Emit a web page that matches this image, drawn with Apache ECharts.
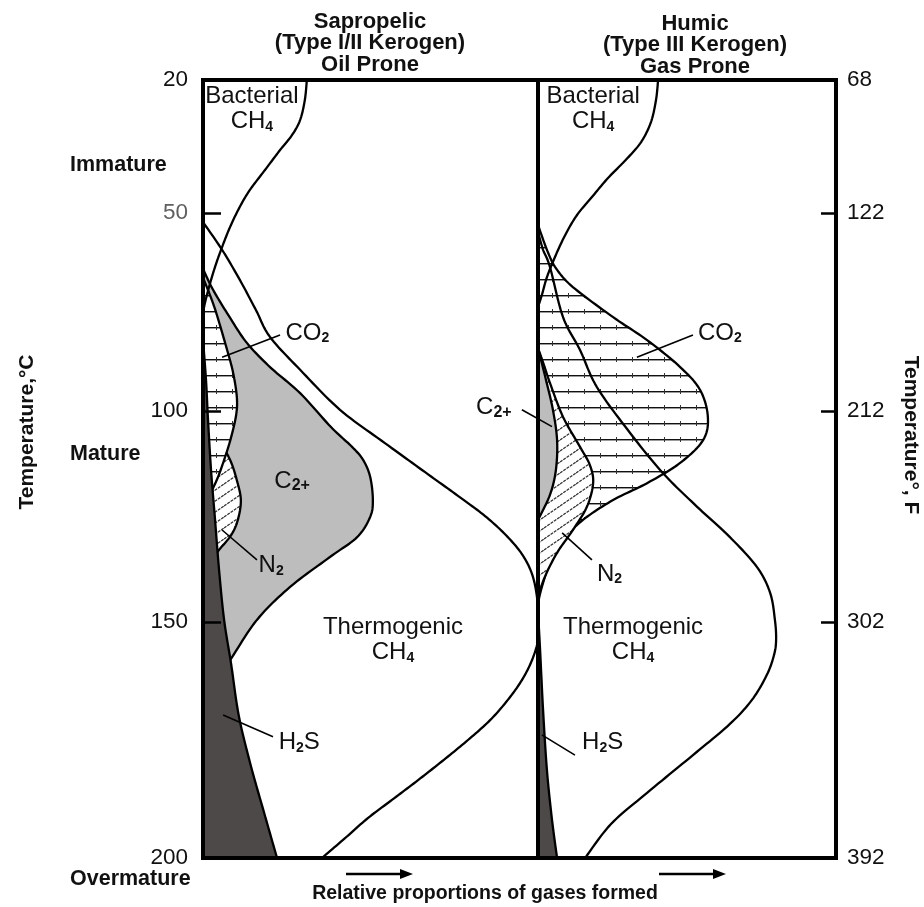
<!DOCTYPE html>
<html>
<head>
<meta charset="utf-8">
<script src="https://cdn.jsdelivr.net/npm/echarts@6/dist/echarts.min.js"></script>
<style>html,body{margin:0;padding:0;background:#fff}#chart{width:924px;height:907px}</style>
</head>
<body>
<div id="chart"></div>
<script>
// ---------------- data ----------------
// temperature ticks (°C) and their °F equivalents
const TEMP_C = [20, 50, 100, 150, 200];
const TEMP_F = [68, 122, 212, 302, 392];
// the drawn temperature scale is not linear: axis units at each °C tick
const SCALE_STOPS = [0, 133, 331, 542, 778];

// Sapropelic panel: [relative proportion (% of panel width), temperature °C]
const SAP_BACTERIAL = [[31.0,20],[30.4,24.5],[29.0,29.0],[26.6,32.4],[23.0,35.8],[18.5,40.3],[14.0,44.8],[11.0,48.6],[8.1,53.5],[5.7,58.6],[3.6,63.6],[1.8,68.7],[0.5,73],[0,75.5]];
const SAP_THERMO = [[0,52.3],[5.7,59.3],[11.0,66.9],[15.8,74.5],[20.0,81.3],[29.0,89.6],[40.9,99.7],[54.3,107.6],[66.3,114.5],[76.1,120.1],[84.2,124.9],[90.4,129.4],[95.2,133.9],[98.2,138.6],[99.7,144.1],[100,149.5],[100,153.8],[98.2,158.1],[95.2,162.3],[91.0,166.5],[85.7,170.8],[79.1,175.0],[71.9,179.2],[64.2,183.5],[56.4,187.7],[49.3,191.5],[42.4,195.8],[35.5,200]];
const SAP_C2 = [[0,64.1],[3.0,69.4],[8.1,76.5],[13.1,82.8],[20.0,88.9],[29.0,95.5],[38.2,103.8],[44.5,108.5],[47.8,111.6],[49.9,115.6],[50.7,121.1],[49.9,125.1],[46.0,129.9],[37.9,134.6],[26.0,141.7],[16.1,149.5],[8.1,158.1],[3.6,162.9],[0,166.5]];
const SAP_CO2 = [[0,66.4],[0.9,68.2],[3.6,74.3],[7.2,84.6],[9.0,90.4],[10.1,96.5],[9.9,100.9],[8.4,106.2],[6.6,110.9],[4.5,115.6],[2.4,119.4],[0.6,123.5],[0,124.9]];
const SAP_N2 = [[0,92.2],[1.5,98.0],[4.5,106.2],[8.1,111.6],[10.1,116.4],[11.3,121.1],[10.4,125.8],[8.4,129.4],[4.8,132.9],[2.1,135.8],[0.6,138.4],[0,139.6]];
const SAP_H2S = [[0,82.1],[0.9,92.2],[1.5,102.1],[2.4,114.0],[3.6,125.8],[4.8,137.7],[6.3,149.5],[8.4,158.9],[10.7,169.9],[14.3,180.5],[18.2,190.3],[22.1,200]];

// Humic panel
const HUM_BACTERIAL = [[40.3,20],[39.6,24.5],[37.9,29.5],[34.6,34.0],[29.5,38.0],[23.5,42.1],[18.1,46.4],[13.1,50.5],[9.1,55.6],[5.7,61.1],[3.0,66.2],[1.3,70.7],[0,73.7]];
const HUM_THERMO = [[0,54.8],[1.7,59.3],[4.0,63.6],[8.4,76.3],[14.1,84.6],[19.8,94.0],[30.9,105.2],[41.9,114.7],[53.4,122.7],[64.4,129.9],[73.5,137.0],[77.9,143.1],[79.5,149.5],[79.9,153.8],[79.2,157.0],[76.8,161.2],[71.8,166.5],[64.4,171.6],[52.0,178.2],[36.6,186.2],[24.5,192.8],[15.8,200]];
const HUM_CO2 = [[0,53.0],[3.0,59.3],[6.0,63.9],[11.7,68.7],[25.2,76.3],[36.6,82.1],[47.7,88.9],[54.4,94.7],[57.0,101.4],[55.4,106.9],[47.7,112.3],[36.6,117.1],[25.2,121.1],[15.1,125.8],[8.4,130.6],[4.0,136.0],[1.3,141.7],[0,145.5]];
const HUM_N2 = [[0,84.1],[2.0,88.4],[4.0,92.9],[8.4,101.4],[14.1,108.5],[17.4,112.8],[18.5,117.1],[16.4,122.7],[11.7,128.2],[6.4,133.6],[2.3,139.3],[0,144.1]];
const HUM_C2 = [[0,84.1],[2.7,92.2],[5.0,99.7],[6.4,106.9],[6.0,114.0],[4.0,119.9],[0,125.8]];
const HUM_H2S = [[0,147.6],[0.7,155.9],[1.7,168.6],[3.0,181.4],[4.7,191.9],[6.4,200]];

// labels: [text, x %, temperature °C, align]
const SAP_LABELS = [
  ['Bacterial\nCH{s|4}', 14.6, 26.5, 'center'],
  ['CO{s|2}', 24.6, 80.3, 'left'],
  ['C{p|2+}', 26.6, 116.6, 'center'],
  ['N{s|2}', 16.6, 136.7, 'left'],
  ['Thermogenic\nCH{s|4}', 56.7, 153.8, 'center'],
  ['H{s|2}S', 22.6, 175.6, 'left']
];
const HUM_LABELS = [
  ['Bacterial\nCH{s|4}', 18.5, 26.5, 'center'],
  ['CO{s|2}', 53.7, 80.3, 'left'],
  ['C{p|2+}', -14.8, 99.2, 'center'],
  ['N{s|2}', 19.8, 138.6, 'left'],
  ['Thermogenic\nCH{s|4}', 31.9, 153.8, 'center'],
  ['H{s|2}S', 14.8, 175.6, 'left']
];
// leader lines: [x1 %, T1, x2 %, T2]
const SAP_LEADERS = [[5.7,86.4,23.0,80.8],[5.7,128.2,16.1,135.3],[6.0,169.7,20.9,174.3]];
const HUM_LEADERS = [[33.2,86.4,52.0,80.8],[-5.4,99.7,4.7,103.7],[8.1,128.9,18.1,135.3],[1.3,173.9,12.4,178.2]];

// ---------------- helpers ----------------
const FONT = '"Liberation Sans", Arial, Helvetica, sans-serif';

function pos(t) {
  let i = 0;
  while (i < TEMP_C.length - 2 && t > TEMP_C[i + 1]) i++;
  return SCALE_STOPS[i] + (t - TEMP_C[i]) * (SCALE_STOPS[i + 1] - SCALE_STOPS[i]) / (TEMP_C[i + 1] - TEMP_C[i]);
}

// Catmull-Rom smoothing of pixel points (render-time only)
function spline(P) {
  const out = [P[0]];
  for (let i = 0; i < P.length - 1; i++) {
    const p0 = P[i - 1] || P[i], p1 = P[i], p2 = P[i + 1], p3 = P[i + 2] || P[i + 1];
    const c1 = [p1[0] + (p2[0] - p0[0]) / 6, p1[1] + (p2[1] - p0[1]) / 6];
    const c2 = [p2[0] - (p3[0] - p1[0]) / 6, p2[1] - (p3[1] - p1[1]) / 6];
    for (let k = 1; k <= 12; k++) {
      const u = k / 12, v = 1 - u;
      out.push([
        v*v*v*p1[0] + 3*v*v*u*c1[0] + 3*v*u*u*c2[0] + u*u*u*p2[0],
        v*v*v*p1[1] + 3*v*v*u*c1[1] + 3*v*u*u*c2[1] + u*u*u*p2[1]
      ]);
    }
  }
  return out;
}

function hatchH() {
  const c = document.createElement('canvas'); c.width = 16; c.height = 16;
  const g = c.getContext('2d');
  g.fillStyle = '#fff'; g.fillRect(0, 0, 16, 16);
  g.fillStyle = '#111'; g.fillRect(0, 7, 16, 1);
  g.fillStyle = '#9a9a9a'; g.fillRect(0, 8, 16, 1);
  g.fillStyle = '#333'; g.fillRect(8, 5, 1, 5);
  return c;
}
function hatchD() {
  const w = 16, h = 11;
  const c = document.createElement('canvas'); c.width = w; c.height = h;
  const g = c.getContext('2d');
  g.fillStyle = '#fff'; g.fillRect(0, 0, w, h);
  g.strokeStyle = '#333'; g.lineWidth = 1.3;
  g.setLineDash([3, 1]);
  for (const k of [-1, 0, 1]) { g.beginPath(); g.moveTo(0, h + k * h); g.lineTo(w, k * h); g.stroke(); }
  return c;
}
const FILL_H = { image: hatchH(), repeat: 'repeat' };
const FILL_D = { image: hatchD(), repeat: 'repeat' };
const FILL_C2 = '#bdbdbd';
const FILL_H2S = '#4e4949';

function collect(params, api) {
  const P = [];
  for (let i = 0; i < params.dataInsideLength; i++) P.push(api.coord([api.value(0, i), api.value(1, i)]));
  return P;
}

function areaSeries(pts, g, fill) {
  return {
    type: 'custom', xAxisIndex: 2 * g, yAxisIndex: 2 * g, clip: true, silent: true,
    data: pts.map(p => [p[0], pos(p[1])]), encode: { x: 0, y: 1 },
    renderItem(params, api) {
      if (params.dataIndexInside !== 0) return null;
      const pts2 = spline(collect(params, api));
      const n = params.dataInsideLength - 1;
      // close the region back onto the temperature axis (x = 0)
      if (api.value(0, n) !== 0) pts2.push(api.coord([0, api.value(1, n)]));
      return { type: 'polygon', shape: { points: pts2 },
        style: { fill: fill, stroke: '#000', lineWidth: 2.3, lineJoin: 'round' } };
    }
  };
}
function curveSeries(pts, g) {
  return {
    type: 'custom', xAxisIndex: 2 * g, yAxisIndex: 2 * g, clip: true, silent: true,
    data: pts.map(p => [p[0], pos(p[1])]), encode: { x: 0, y: 1 },
    renderItem(params, api) {
      if (params.dataIndexInside !== 0) return null;
      return { type: 'polyline', shape: { points: spline(collect(params, api)) },
        style: { fill: 'none', stroke: '#000', lineWidth: 2.3, lineJoin: 'round' } };
    }
  };
}
const RICH = {
  s: { fontFamily: FONT, fontSize: 14, fontWeight: 'bold', lineHeight: 10, verticalAlign: 'bottom', fill: '#111' },
  p: { fontFamily: FONT, fontSize: 16, fontWeight: 'bold', lineHeight: 19, verticalAlign: 'bottom', fill: '#111' }
};
function labelSeries(labels, g) {
  return {
    type: 'custom', xAxisIndex: 2 * g, yAxisIndex: 2 * g, clip: false, silent: true, z: 5,
    data: labels.map(l => [l[1], pos(l[2])]), encode: { x: 0, y: 1 },
    renderItem(params, api) {
      const l = labels[params.dataIndex];
      const p = api.coord([api.value(0), api.value(1)]);
      return { type: 'text', x: p[0], y: p[1],
        style: { text: l[0], fontFamily: FONT, fontSize: 24, fill: '#111', align: l[3],
          verticalAlign: 'middle', lineHeight: 25, rich: RICH } };
    }
  };
}
function leaderSeries(leaders, g) {
  return {
    type: 'custom', xAxisIndex: 2 * g, yAxisIndex: 2 * g, clip: false, silent: true, z: 5,
    data: leaders.map(l => [l[0], pos(l[1]), l[2], pos(l[3])]), encode: { x: [0, 2], y: [1, 3] },
    renderItem(params, api) {
      const a = api.coord([api.value(0), api.value(1)]);
      const b = api.coord([api.value(2), api.value(3)]);
      return { type: 'line', shape: { x1: a[0], y1: a[1], x2: b[0], y2: b[1] },
        style: { stroke: '#000', lineWidth: 1.6 } };
    }
  };
}

const FRAME = { show: true, onZero: false, lineStyle: { color: '#000', width: 4, cap: 'square' } };
function xAx(g, position) {
  return { gridIndex: g, type: 'value', min: 0, max: 100, position, z: 10,
    axisLine: FRAME, axisTick: { show: false }, axisLabel: { show: false }, splitLine: { show: false } };
}
function yAx(g, position, labels, tickLen) {
  const ax = { gridIndex: g, type: 'value', min: 0, max: 778, inverse: true, position, z: 10,
    axisLine: FRAME, splitLine: { show: false }, axisTick: { show: false }, axisLabel: { show: false } };
  if (labels) {
    ax.axisTick = { show: true, inside: true, length: tickLen, lineStyle: { color: '#000', width: 2.5 },
      customValues: TEMP_C.slice(1, -1).map(pos) };
    ax.axisLabel = { show: true, customValues: TEMP_C.map(pos), showMinLabel: true, showMaxLabel: true,
      fontFamily: FONT, fontSize: 22.5, margin: position === 'left' ? 15 : 11,
      color: v => (labels === TEMP_C && Math.abs(Number(v) - pos(50)) < 0.01) ? '#5f5f5f' : '#111',
      formatter: v => { const i = SCALE_STOPS.findIndex(s => Math.abs(s - Number(v)) < 0.01); return i >= 0 ? String(labels[i]) : ''; } };
  }
  return ax;
}

function txt(text, x, y, opt) {
  return Object.assign({ type: 'text', x, y, silent: true, z: 20,
    style: Object.assign({ text, fontFamily: FONT, fontSize: 21.5, fontWeight: 'bold', fill: '#111',
      align: 'left', verticalAlign: 'middle' }, opt || {}) });
}

const option = {
  animation: false,
  backgroundColor: '#fff',
  grid: [
    { left: 203, top: 80, width: 335, height: 778 },
    { left: 538, top: 80, width: 298, height: 778 }
  ],
  xAxis: [xAx(0, 'bottom'), xAx(0, 'top'), xAx(1, 'bottom'), xAx(1, 'top')],
  yAxis: [yAx(0, 'left', TEMP_C, 18), yAx(0, 'right'), yAx(1, 'left'), yAx(1, 'right', TEMP_F, 15)],
  series: [
    // Sapropelic
    areaSeries(SAP_C2, 0, FILL_C2),
    areaSeries(SAP_N2, 0, FILL_D),
    areaSeries(SAP_CO2, 0, FILL_H),
    areaSeries(SAP_H2S, 0, FILL_H2S),
    curveSeries(SAP_BACTERIAL, 0),
    curveSeries(SAP_THERMO, 0),
    leaderSeries(SAP_LEADERS, 0),
    labelSeries(SAP_LABELS, 0),
    // Humic
    areaSeries(HUM_CO2, 1, FILL_H),
    areaSeries(HUM_N2, 1, FILL_D),
    areaSeries(HUM_C2, 1, FILL_C2),
    areaSeries(HUM_H2S, 1, FILL_H2S),
    curveSeries(HUM_BACTERIAL, 1),
    curveSeries(HUM_THERMO, 1),
    leaderSeries(HUM_LEADERS, 1),
    labelSeries(HUM_LABELS, 1)
  ],
  graphic: [
    txt('Sapropelic\n(Type I/II Kerogen)\nOil Prone', 370, 43, { align: 'center', fontSize: 22, lineHeight: 21.5 }),
    txt('Humic\n(Type III Kerogen)\nGas Prone', 695, 45, { align: 'center', fontSize: 22, lineHeight: 21.5 }),
    txt('Immature', 70, 165),
    txt('Mature', 70, 454),
    txt('Overmature', 70, 879),
    txt('Relative proportions of gases formed', 485, 894, { align: 'center', fontSize: 19.5 }),
    Object.assign(txt('Temperature,°C', 27, 432, { align: 'center', fontSize: 21 }), { rotation: Math.PI / 2 }),
    Object.assign(txt('Temperature°, F', 911, 435, { align: 'center', fontSize: 21 }), { rotation: -Math.PI / 2 }),
    { type: 'line', silent: true, shape: { x1: 346, y1: 874, x2: 402, y2: 874 }, style: { stroke: '#000', lineWidth: 2.5 } },
    { type: 'polygon', silent: true, shape: { points: [[400, 869], [413, 874], [400, 879]] }, style: { fill: '#000' } },
    { type: 'line', silent: true, shape: { x1: 659, y1: 874, x2: 715, y2: 874 }, style: { stroke: '#000', lineWidth: 2.5 } },
    { type: 'polygon', silent: true, shape: { points: [[713, 869], [726, 874], [713, 879]] }, style: { fill: '#000' } }
  ]
};

const chart = echarts.init(document.getElementById('chart'), null, { renderer: 'canvas', width: 924, height: 907 });
chart.setOption(option);
</script>
</body>
</html>
